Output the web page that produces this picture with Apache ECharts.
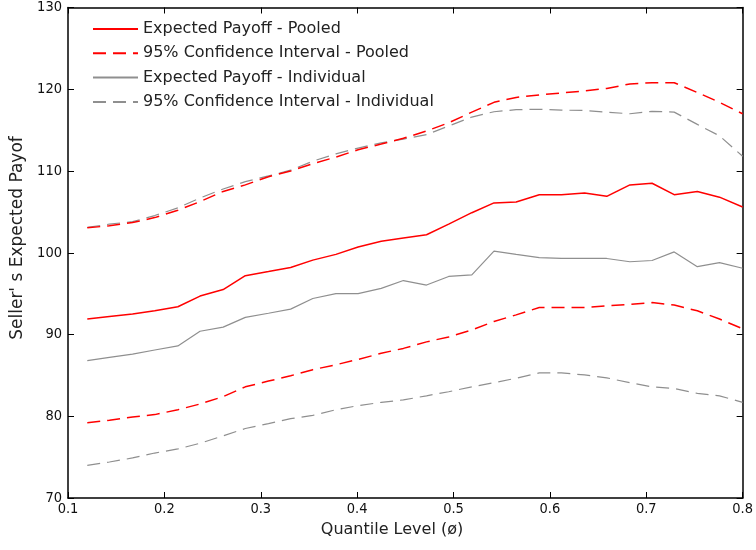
<!DOCTYPE html>
<html>
<head>
<meta charset="utf-8">
<script src="https://cdn.jsdelivr.net/npm/echarts@6/dist/echarts.min.js"></script>
<style>html,body{margin:0;padding:0;background:#fff}#c{width:756px;height:550px}</style>
</head>
<body>
<div id="c"></div>
<script>
var quantiles = [0.12,0.143,0.167,0.19,0.214,0.237,0.261,0.284,0.308,0.331,0.354,0.378,0.401,0.425,0.448,0.472,0.495,0.519,0.542,0.565,0.589,0.612,0.636,0.659,0.683,0.706,0.729,0.753,0.776,0.8];
var pooledExpected = [91.9,92.2,92.5,92.9,93.4,94.7,95.5,97.2,97.7,98.2,99.1,99.8,100.7,101.4,101.8,102.2,103.5,104.9,106.1,106.2,107.1,107.1,107.3,106.9,108.3,108.5,107.1,107.5,106.8,105.6];
var pooledLower = [79.2,79.5,79.9,80.2,80.8,81.5,82.4,83.6,84.3,84.95,85.7,86.3,86.95,87.7,88.3,89.1,89.7,90.55,91.6,92.4,93.3,93.3,93.3,93.5,93.7,93.9,93.6,92.9,91.9,90.7];
var pooledUpper = [103.05,103.3,103.7,104.3,105.2,106.25,107.5,108.3,109.3,110.0,110.9,111.7,112.6,113.3,114.0,114.9,115.9,117.2,118.4,119.0,119.3,119.55,119.8,120.1,120.65,120.8,120.8,119.6,118.4,117.0];
var indivExpected = [86.8,87.2,87.6,88.1,88.6,90.4,90.9,92.1,92.6,93.1,94.4,95.0,95.0,95.65,96.6,96.05,97.1,97.3,100.2,99.8,99.4,99.3,99.3,99.3,98.9,99.05,100.1,98.3,98.8,98.1];
var indivLower = [74.0,74.4,74.9,75.5,76.0,76.7,77.6,78.5,79.1,79.7,80.1,80.8,81.3,81.7,82.0,82.5,83.0,83.6,84.1,84.65,85.3,85.3,85.05,84.7,84.1,83.6,83.4,82.8,82.5,81.7];
var indivUpper = [103.1,103.5,103.8,104.55,105.5,106.7,107.8,108.7,109.4,110.1,111.2,112.1,112.8,113.45,113.9,114.45,115.5,116.6,117.25,117.5,117.55,117.45,117.4,117.2,117.0,117.3,117.2,115.7,114.3,111.8];
var xTicks = [0.1,0.2,0.3,0.4,0.5,0.6,0.7,0.8];
var yTicks = [70,80,90,100,110,120,130];
var names = ['Expected Payoff - Pooled','95% Confidence Interval - Pooled','Expected Payoff - Individual','95% Confidence Interval - Individual'];
var xTitle = 'Quantile Level (\u00f8)';
var yTitle = "Seller' s Expected Payof";

function pairs(arr){ return quantiles.map(function(q,i){ return [q, arr[i]]; }); }
var RED = '#ff0000', GRAY = '#8f8f8f';
var dash = [13, 7];
function mk(name, data, color, dashed, width){
  return {name:name, type:'line', data:pairs(data), symbol:'none', silent:true, animation:false,
    lineStyle:{color:color, width:width, type: dashed ? dash : 'solid'}, itemStyle:{color:color}};
}
var tickFont = {fontFamily:'DejaVu Sans Condensed, DejaVu Sans, sans-serif', fontSize:14.5, color:'#111'};
var textFont = 'DejaVu Sans, sans-serif';
var chart = echarts.init(document.getElementById('c'), null, {renderer:'canvas'});
chart.setOption({
  animation:false,
  backgroundColor:'#fff',
  grid:{left:68, right:10, top:4, bottom:52},
  legend:{
    data:names.map(function(n){ return {name:n}; }),
    orient:'vertical', left:92, top:21, padding:0, itemWidth:45, itemHeight:16, itemGap:8.3,
    itemStyle:{color:'rgba(0,0,0,0)', borderColor:'rgba(0,0,0,0)', borderWidth:0, opacity:0},
    textStyle:{fontFamily:textFont, fontSize:16, color:'#222'},
    selectedMode:false
  },
  graphic:[
    {type:'text', silent:true, x:392, y:530, style:{text:xTitle, font:'16px ' + textFont, fill:'#222', align:'center', verticalAlign:'middle'}},
    {type:'text', silent:true, x:18, y:238, rotation:Math.PI/2, style:{text:yTitle, font:'17px ' + textFont, fill:'#222', align:'center', verticalAlign:'middle'}}
  ],
  xAxis:[{
    type:'value', min:xTicks[0], max:xTicks[xTicks.length-1], interval:0.1, position:'bottom',
    axisLine:{lineStyle:{color:'#000', width:1.5}},
    axisTick:{inside:true, length:6, lineStyle:{color:'#000'}},
    axisLabel:Object.assign({margin:4, formatter:function(v){ return v.toFixed(1); }}, tickFont),
    splitLine:{show:false}
  },{
    type:'value', min:xTicks[0], max:xTicks[xTicks.length-1], interval:0.1, position:'top',
    axisLine:{lineStyle:{color:'#000', width:1.5}},
    axisTick:{inside:true, length:6, lineStyle:{color:'#000'}},
    axisLabel:{show:false}, splitLine:{show:false}
  }],
  yAxis:[{
    type:'value', min:yTicks[0], max:yTicks[yTicks.length-1], interval:10, position:'left',
    axisLine:{lineStyle:{color:'#000', width:1.5}},
    axisTick:{inside:true, length:6, lineStyle:{color:'#000'}},
    axisLabel:Object.assign({margin:6}, tickFont),
    splitLine:{show:false}
  },{
    type:'value', min:yTicks[0], max:yTicks[yTicks.length-1], interval:10, position:'right',
    axisLine:{lineStyle:{color:'#000', width:1.5}},
    axisTick:{inside:true, length:6, lineStyle:{color:'#000'}},
    axisLabel:{show:false}, splitLine:{show:false}
  }],
  series:[
    mk(names[0], pooledExpected, RED, false, 1.5),
    mk(names[1], pooledLower, RED, true, 1.5),
    mk(names[2], indivExpected, GRAY, false, 1.2),
    mk(names[3], indivLower, GRAY, true, 1.2),
    mk(names[3], indivUpper, GRAY, true, 1.2),
    mk(names[1], pooledUpper, RED, true, 1.5)
  ]
});
</script>
</body>
</html>
